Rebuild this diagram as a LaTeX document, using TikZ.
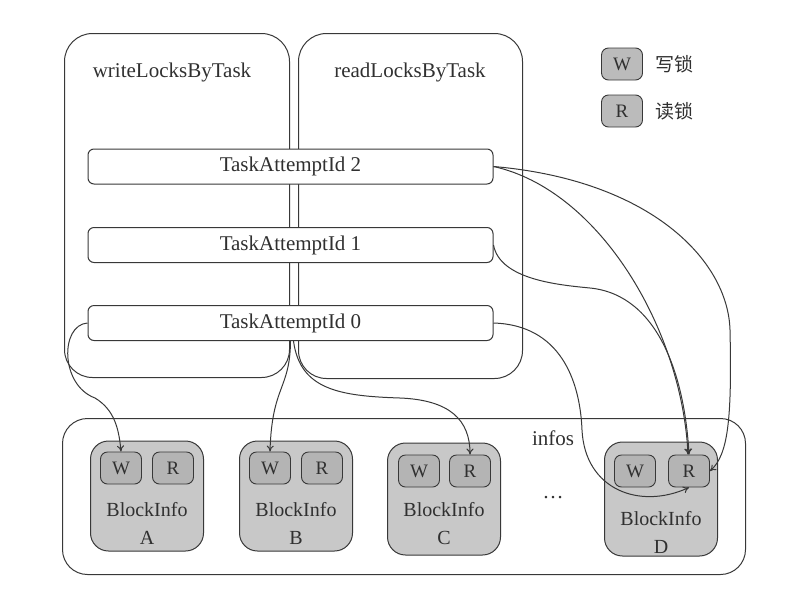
\documentclass[tikz,border=0pt]{standalone}
\usepackage{fontspec}
\setmainfont{Liberation Serif}
\newfontfamily\cjk{Noto Sans CJK SC}
\usetikzlibrary{arrows.meta}
\definecolor{ln}{HTML}{383838}
\definecolor{blkfill}{HTML}{C8C8C8}
\definecolor{inrfill}{HTML}{B4B4B4}
\definecolor{txt}{HTML}{303030}
\tikzset{
  cont/.style={draw=ln, line width=1pt, rounded corners=28pt, anchor=north west, inner sep=0pt},
  tabox/.style={draw=ln, fill=white, line width=1pt, rounded corners=6pt, minimum width=405pt, minimum height=35pt, inner sep=0pt, font=\fontsize{21}{23}\selectfont, text=txt},
  lbl/.style={font=\fontsize{21}{23}\selectfont, text=txt, inner sep=0pt},
  blk/.style={draw=ln, fill=blkfill, line width=1pt, rounded corners=18pt, minimum width=113pt, inner sep=0pt},
  inr/.style={draw=ln, fill=inrfill, line width=0.9pt, rounded corners=7pt, minimum width=41pt, minimum height=32pt, inner sep=0pt, font=\fontsize{19}{21}\selectfont, text=txt},
  edge/.style={draw=ln, line width=1pt, -{To[length=6pt,width=7pt]}},
}
\begin{document}
\begin{tikzpicture}[x=1pt,y=-1pt]
\useasboundingbox (0,0) rectangle (799,592);
% containers
\node[cont, minimum width=225pt, minimum height=344pt] (wl) at (64,33) {};
\node[cont, minimum width=224pt, minimum height=345pt] (rl) at (298,33) {};
\node[lbl] (wlt) at (172,72) {writeLocksByTask};
\node[lbl] (rlt) at (410,72) {readLocksByTask};
% task attempt boxes
\node[tabox] (TA2) at (290.5,166.5) {TaskAttemptId 2};
\node[tabox] (TA1) at (290.5,245) {TaskAttemptId 1};
\node[tabox] (TA0) at (290.5,323) {TaskAttemptId 0};
% legend
\node[inr, fill=inrfill!90!white] (LW) at (622,64) {W};
\node[lbl, font=\cjk\fontsize{19}{21}\selectfont] (LWt) at (674,64) {写锁};
\node[inr, fill=inrfill!90!white] (LR) at (622,111) {R};
\node[lbl, font=\cjk\fontsize{19}{21}\selectfont] (LRt) at (674,111) {读锁};
% infos container
\node[cont, rounded corners=25pt, minimum width=683pt, minimum height=156pt] (infos) at (62,418) {};
\node[lbl] (infost) at (553,438) {infos};
% blocks
\node[blk, minimum height=110pt] (A) at (147,496) {};
\node[inr] (AW) at (121,468) {W};
\node[inr] (AR) at (173,468) {R};
\node[lbl, align=center, font=\fontsize{20}{28}\selectfont] (At) at (147,523) {BlockInfo\\A};
\node[blk, minimum height=110pt] (B) at (296,496) {};
\node[inr] (BW) at (270,468) {W};
\node[inr] (BR) at (322,468) {R};
\node[lbl, align=center, font=\fontsize{20}{28}\selectfont] (Bt) at (296,523) {BlockInfo\\B};
\node[blk, minimum height=112pt] (C) at (444,499) {};
\node[inr] (CW) at (419,471) {W};
\node[inr] (CR) at (470,471) {R};
\node[lbl, align=center, font=\fontsize{20}{28}\selectfont] (Ct) at (444,524) {BlockInfo\\C};
\node[blk, minimum height=114pt] (D) at (661,499) {};
\node[inr] (DW) at (635,471) {W};
\node[inr] (DR) at (689,471) {R};
\node[lbl, align=center, font=\fontsize{20}{28}\selectfont] (Dt) at (661,532) {BlockInfo\\D};
\node[lbl] (dots) at (553,498) {\dots};
% edges
\draw[edge] (TA0.west) .. controls (60,325) and (60,385) .. (95,398) .. controls (115,410) and (119,430) .. (AW.north);
\draw[edge] (TA0.south) .. controls (290,390) and (272,385) .. (BW.north);
\draw[edge] ([xshift=3pt]TA0.south) .. controls (300,390) and (340,396) .. (400,398) .. controls (450,400) and (470,420) .. (CR.north);
\draw[edge] (TA0.east) .. controls (560,325) and (580,380) .. (582,430) .. controls (585,490) and (640,510) .. (DR.south);
\draw[edge] (TA2.east) .. controls (600,190) and (682,330) .. ([xshift=-1pt]DR.north);
\draw[edge] (TA2.east) .. controls (650,180) and (728,260) .. (730,330) .. controls (732,420) and (728,455) .. (DR.east);
\draw[edge] (TA1.east) .. controls (500,280) and (560,285) .. (590,288) .. controls (660,295) and (685,380) .. (DR.north);
\end{tikzpicture}
\end{document}
